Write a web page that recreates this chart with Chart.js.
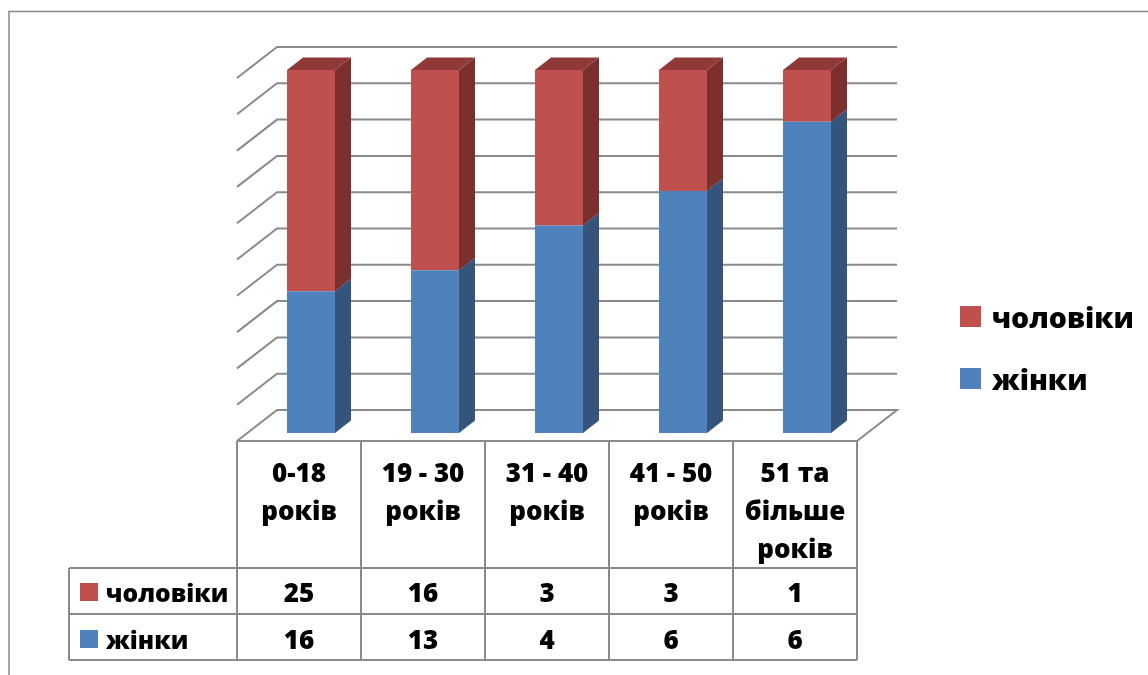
<!DOCTYPE html>
<html>
<head>
<meta charset="utf-8">
<script src="https://cdn.jsdelivr.net/npm/chart.js@4.4.1/dist/chart.umd.min.js"></script>
<style>
  html, body { margin: 0; padding: 0; background: #ffffff; }
  #wrap { width: 1148px; height: 675px; position: relative; }
</style>
</head>
<body>
<div id="wrap"><canvas id="c" width="1148" height="675"></canvas></div>
<script>
// ---- data ----
const categories = [["0-18", "років"], ["19 - 30", "років"], ["31 - 40", "років"], ["41 - 50", "років"], ["51 та", "більше", "років"]];
const seriesNames = ["чоловіки", "жінки"];
const men = [25, 16, 3, 3, 1];
const women = [16, 13, 4, 6, 6];
const colorMen = "#C0504D";
const colorWomen = "#4F81BD";

// 100% stacked shares (computed from the counts shown in the table)
const womenPct = women.map((w, i) => w / (w + men[i]) * 100);
const menPct = men.map((m, i) => m / (m + women[i]) * 100);

// ---- 3D geometry (relative to the bar plane) ----
const FX = -12, FY = 8;     // front plane
const BX = 28, BY = -23;    // back wall
const DX = 16, DY = -12.5;  // bar depth
const GRID = "#8a8a8a";
const LINE = "#8a8a8a";
const FONT = "'Open Sans', 'DejaVu Sans', sans-serif";
const W = "800";

const threeD = {
  id: "threeD",
  beforeDatasetsDraw(chart) {
    const ctx = chart.ctx, a = chart.chartArea, ys = chart.scales.y;
    ctx.save();
    ctx.strokeStyle = GRID;
    ctx.lineWidth = 2;
    ys.ticks.forEach(t => {
      const y = ys.getPixelForValue(t.value);
      ctx.beginPath();
      ctx.moveTo(a.left + FX, y + FY);
      ctx.lineTo(a.left + BX, y + BY);
      ctx.lineTo(a.right + BX, y + BY);
      if (t.value === 0) {
        ctx.lineTo(a.right + FX, y + FY);
        ctx.lineTo(a.left + FX, y + FY);
      }
      ctx.stroke();
    });
    ctx.restore();
  },
  afterDatasetsDraw(chart) {
    const ctx = chart.ctx;
    const sideCols = ["#34547C", "#7B302E"];
    const topCols = ["#3F6797", "#8F3A38"];
    ctx.save();
    const nSets = chart.data.datasets.length;
    chart.data.datasets.forEach((ds, di) => {
      const meta = chart.getDatasetMeta(di);
      meta.data.forEach(bar => {
        const p = bar.getProps(["x", "y", "base", "width"], true);
        const xl = p.x - p.width / 2, xr = p.x + p.width / 2;
        const top = Math.min(p.y, p.base), bot = Math.max(p.y, p.base);
        ctx.fillStyle = sideCols[di];
        ctx.beginPath();
        ctx.moveTo(xr, top);
        ctx.lineTo(xr + DX, top + DY);
        ctx.lineTo(xr + DX, bot + DY);
        ctx.lineTo(xr, bot);
        ctx.closePath();
        ctx.fill();
        if (di === nSets - 1) {
          ctx.fillStyle = topCols[di];
          ctx.beginPath();
          ctx.moveTo(xl, top);
          ctx.lineTo(xl + DX, top + DY);
          ctx.lineTo(xr + DX, top + DY);
          ctx.lineTo(xr, top);
          ctx.closePath();
          ctx.fill();
        }
      });
    });
    ctx.restore();
  },
  afterDraw(chart) {
    const ctx = chart.ctx, a = chart.chartArea;
    const n = categories.length;
    const colW = (a.right - a.left) / n;
    const tL = a.left + FX, tT = a.bottom + FY;
    const hdrB = 568, r1B = 614, r2B = 660, legL = 69;
    ctx.save();
    // table lines
    ctx.strokeStyle = LINE;
    ctx.lineWidth = 2;
    ctx.beginPath();
    for (let i = 0; i <= n; i++) {
      const x = tL + i * colW;
      ctx.moveTo(x, tT); ctx.lineTo(x, r2B);
    }
    ctx.moveTo(legL, hdrB); ctx.lineTo(legL, r2B);
    [hdrB, r1B, r2B].forEach(y => { ctx.moveTo(legL, y); ctx.lineTo(tL + n * colW, y); });
    ctx.stroke();

    // header text
    ctx.fillStyle = "#000000";
    ctx.textAlign = "center";
    ctx.textBaseline = "alphabetic";
    ctx.font = W + " 26px " + FONT;
    categories.forEach((lines, i) => {
      const cx = tL + (i + 0.5) * colW;
      lines.forEach((s, k) => ctx.fillText(s, cx, 482 + k * 38));
    });
    // values
    const rows = [men, women];
    const baselines = [602, 649];
    rows.forEach((vals, r) => {
      vals.forEach((v, i) => ctx.fillText(String(v), tL + (i + 0.5) * colW, baselines[r]));
    });
    // table legend keys
    const cols = [colorMen, colorWomen];
    ctx.textAlign = "left";
    ctx.font = W + " 24.6px " + FONT;
    seriesNames.forEach((nm, r) => {
      ctx.fillStyle = cols[r];
      ctx.fillRect(80, baselines[r] - 19, 18, 18);
      ctx.fillStyle = "#000000";
      ctx.fillText(nm, 106, baselines[r]);
    });
    // right legend
    ctx.font = W + " 28.5px " + FONT;
    const lb = [328, 390];
    seriesNames.forEach((nm, r) => {
      ctx.fillStyle = cols[r];
      ctx.fillRect(960, lb[r] - 22, 21, 21);
      ctx.fillStyle = "#000000";
      ctx.fillText(nm, 992, lb[r]);
    });
    // outer border
    ctx.strokeStyle = "#8a8a8a";
    ctx.lineWidth = 1.5;
    ctx.beginPath();
    ctx.moveTo(1148, 11.5); ctx.lineTo(9, 11.5); ctx.lineTo(9, 675);
    ctx.stroke();
    ctx.restore();
  }
};

new Chart(document.getElementById("c"), {
  type: "bar",
  data: {
    labels: categories,
    datasets: [
      { label: seriesNames[1], data: womenPct, backgroundColor: colorWomen },
      { label: seriesNames[0], data: menPct, backgroundColor: colorMen }
    ]
  },
  options: {
    responsive: false,
    animation: false,
    events: [],
    layout: { padding: { left: 249, right: 279, top: 70, bottom: 242 } },
    datasets: { bar: { barPercentage: 48 / 124, categoryPercentage: 1, borderWidth: 0 } },
    plugins: { legend: { display: false }, tooltip: { enabled: false } },
    scales: {
      x: { display: false, stacked: true, offset: true },
      y: { display: false, stacked: true, min: 0, max: 100, ticks: { stepSize: 10 } }
    }
  },
  plugins: [threeD]
});
</script>
</body>
</html>
